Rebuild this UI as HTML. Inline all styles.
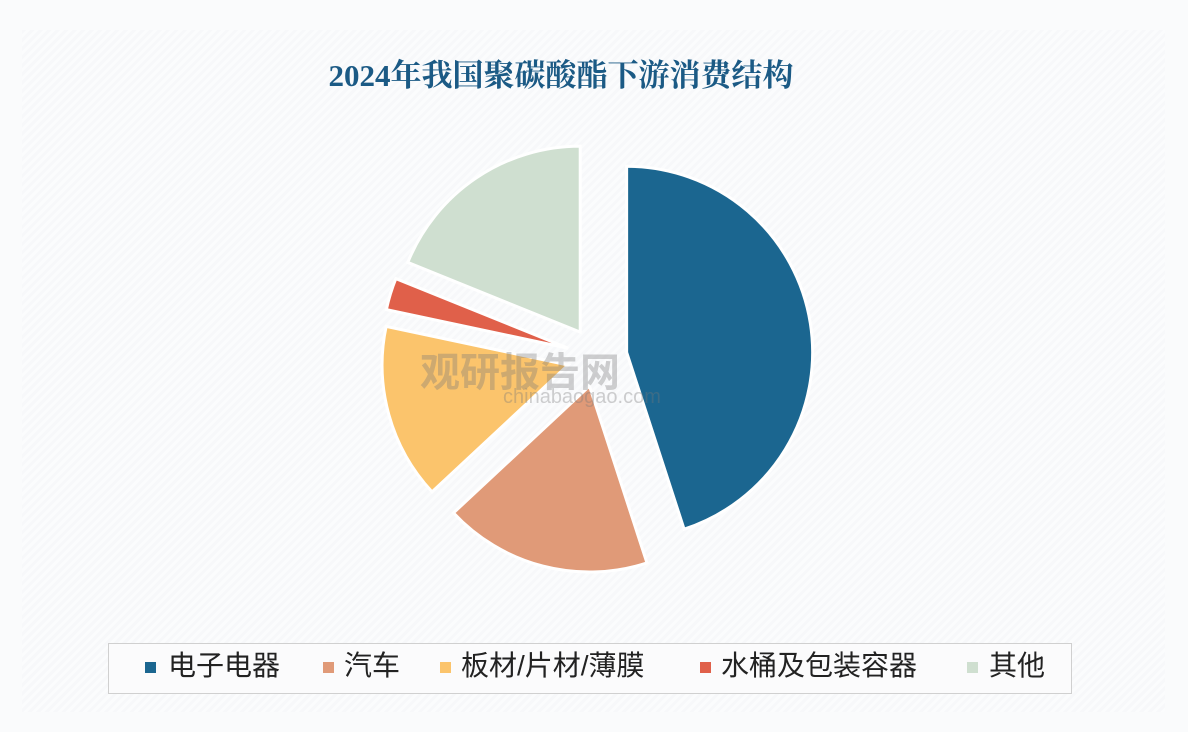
<!DOCTYPE html>
<html><head><meta charset="utf-8"><style>
body{margin:0;width:1188px;height:732px;background:#f3f4f6;font-family:"Liberation Sans","Noto Sans CJK SC",sans-serif;overflow:hidden;position:relative}
.panel{position:absolute;left:22px;top:30px;width:1143px;height:682px;background:repeating-linear-gradient(135deg,#f7f8fa 0 3px,#fbfcfd 3px 6px);}
.outer{position:absolute;left:0;top:0;width:1188px;height:732px;background:#fafbfc}
.title{position:absolute;left:0;width:1122px;top:50px;text-align:center;font-family:"Liberation Serif","Noto Serif CJK SC",serif;font-weight:bold;font-size:31px;color:#1b5a85}
.legend{position:absolute;left:108px;top:643px;width:962px;height:49px;border:1px solid #d0d0d0;background:#fbfbfc}
.li{position:absolute;font-size:28px;color:#222;line-height:30px}
.sq{position:absolute;width:11px;height:11px;top:662px}
</style></head><body>
<div class="outer"></div>
<div class="panel"></div>
<div class="title">2024年我国聚碳酸酯下游消费结构</div>
<svg id="pie" width="1188" height="732" style="position:absolute;left:0;top:0"></svg>
<div style="position:absolute;left:420px;top:340px;font-size:40px;font-weight:bold;color:rgba(120,120,120,0.35)">观研报告网</div>
<div style="position:absolute;left:503px;top:386px;font-size:20px;color:rgba(120,120,120,0.35)">chinabaogao.com</div>
<div class="legend"></div>
<div class="sq" style="left:145px;background:#1b6690"></div><div class="li" style="left:168px;top:651px">电子电器</div>
<div class="sq" style="left:323px;background:#e09a78"></div><div class="li" style="left:344px;top:651px">汽车</div>
<div class="sq" style="left:440px;background:#fbc46c"></div><div class="li" style="left:461px;top:651px">板材/片材/薄膜</div>
<div class="sq" style="left:700px;background:#e0604a"></div><div class="li" style="left:721px;top:651px">水桶及包装容器</div>
<div class="sq" style="left:967px;background:#cfdfd0"></div><div class="li" style="left:989px;top:651px">其他</div>
<script>
var s=[[0,162,"#1b6690"],[162,227,"#e09a78"],[227,282,"#fbc46c"],[282,292,"#e0604a"],[292,360,"#cfdfd0"]];
var cx=597,cy=357,r=186,d=30,h="";
function p(a,rr,x,y){a=a*Math.PI/180;return [x+rr*Math.sin(a),y-rr*Math.cos(a)];}
s.forEach(function(t){var m=(t[0]+t[1])/2,o=p(m,d,cx,cy),a=p(t[0],r,o[0],o[1]),b=p(t[1],r,o[0],o[1]);
h+='<path d="M'+o[0]+' '+o[1]+'L'+a[0]+' '+a[1]+'A'+r+' '+r+' 0 '+((t[1]-t[0])>180?1:0)+' 1 '+b[0]+' '+b[1]+'Z" fill="'+t[2]+'" stroke="#fff" stroke-width="3"/>';});
document.getElementById('pie').innerHTML=h;
</script>
</body></html>
